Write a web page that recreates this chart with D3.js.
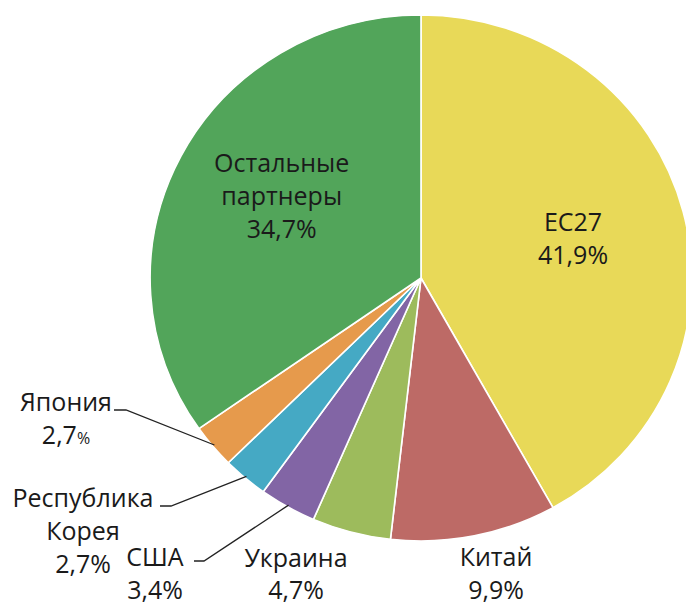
<!DOCTYPE html>
<html lang="ru">
<head>
<meta charset="UTF-8">
<title>Партнеры</title>
<script src="https://d3js.org/d3.v7.min.js"></script>
<style>
body { margin: 0; background: #fff; }
svg { display: block; }
text { font-family: "Open Sans", sans-serif; font-size: 25px; fill: #1a1a1a; }
</style>
</head>
<body>
<div id="chart"></div>
<script>
// данные
var names = ["EC27", "Китай", "Украина", "США", "Республика Корея", "Япония", "Остальные партнеры"];
var shares = [41.9, 9.9, 4.7, 3.4, 2.7, 2.7, 34.7];
var labelLines = [
  ["EC27", "41,9%"],
  ["Китай", "9,9%"],
  ["Украина", "4,7%"],
  ["США", "3,4%"],
  ["Республика", "Корея", "2,7%"],
  ["Япония", "2,7%"],
  ["Остальные", "партнеры", "34,7%"]
];
var colors = ["#e8d958", "#bd6a66", "#9dbb5c", "#8265a5", "#45a9c4", "#e69a4c", "#52a55a"];

var W = 686, H = 607;
var cx = 421, cy = 278, r = 263, sx = 1.03;

var svg = d3.select("#chart").append("svg")
  .attr("width", W).attr("height", H);

var pie = d3.pie().sort(null).value(function(d) { return d; });
var arcs = pie(shares);

var arc = d3.arc().innerRadius(0).outerRadius(r);
var edge = d3.arc().innerRadius(r - 2).outerRadius(r - 2);
var inner = d3.arc().innerRadius(r * 0.58).outerRadius(r * 0.58);

var g = svg.append("g")
  .attr("transform", "translate(" + cx + "," + cy + ") scale(" + sx + ",1)");

g.selectAll("path.slice")
  .data(arcs)
  .enter().append("path")
  .attr("class", "slice")
  .attr("d", arc)
  .attr("fill", function(d, i) { return colors[i]; })
  .attr("stroke", "#fff")
  .attr("stroke-width", 1.6)
  .attr("stroke-linejoin", "round");

// подписи: внутри (0, 6) и снаружи
function drawLabel(x, y, lines, small, lh) {
  lh = lh || 33;
  var t = svg.append("text").attr("text-anchor", "middle");
  lines.forEach(function(s, k) {
    var ts = t.append("tspan").attr("x", x).attr("y", y + k * lh);
    if (small && k == lines.length - 1) {
      ts.text(s.replace("%", ""));
      ts.append("tspan").style("font-size", "16px").text("%");
    } else ts.text(s);
  });
}

var insideShift = { 0: 8, 6: -2 };
[0, 6].forEach(function(i) {
  var c = inner.centroid(arcs[i]);
  var n = labelLines[i].length;
  drawLabel(cx + c[0] * sx, cy + c[1] - (n - 1) * 33 / 2 + insideShift[i], labelLines[i]);
});

var outside = {
  1: { x: 496, y: 566, lh: 33 },
  2: { x: 296, y: 567, lh: 32 },
  3: { x: 155, y: 566, lh: 33 },
  4: { x: 83, y: 507, lh: 33 },
  5: { x: 66, y: 411, lh: 33 }
};
Object.keys(outside).forEach(function(k) {
  var p = outside[k];
  drawLabel(p.x, p.y, labelLines[k], k == 5, p.lh);
});

// выноски
var leaders = [
  { i: 5, from: [114, 410], knee: [126, 410] },
  { i: 4, from: [160, 506], knee: [171, 506] },
  { i: 3, from: [194, 561], knee: [204, 561] }
];
leaders.forEach(function(l) {
  var c = edge.centroid(arcs[l.i]);
  var end = [cx + c[0] * sx, cy + c[1]];
  svg.append("path")
    .attr("d", d3.line()([l.from, l.knee, end]))
    .attr("fill", "none")
    .attr("stroke", "#222")
    .attr("stroke-width", 1.3);
});
</script>
</body>
</html>
